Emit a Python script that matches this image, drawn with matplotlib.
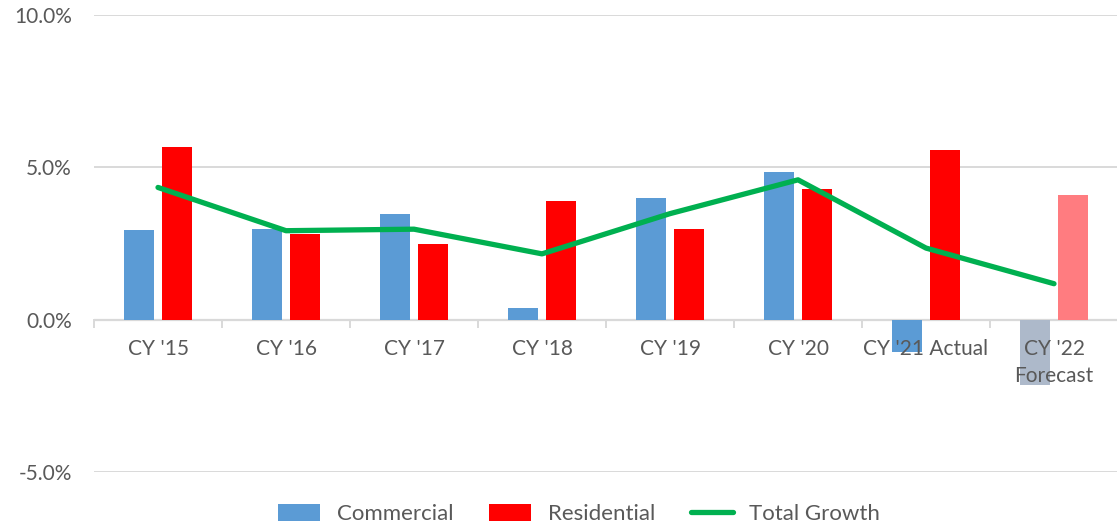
import matplotlib
matplotlib.use("Agg")
import matplotlib.pyplot as plt
import numpy as np

categories = ["CY '15", "CY '16", "CY '17", "CY '18", "CY '19", "CY '20", "CY '21 Actual", "CY '22\nForecast"]
commercial = [2.95, 2.98, 3.48, 0.39, 4.00, 4.85, -1.05, -2.15]
residential = [5.67, 2.82, 2.49, 3.90, 2.98, 4.30, 5.57, 4.10]
total_growth = [4.34, 2.92, 2.97, 2.16, 3.48, 4.59, 2.35, 1.18]
yticks = [-5.0, 0.0, 5.0, 10.0]

plt.rcParams['font.family'] = ['Lato', 'DejaVu Sans']
txt = '#595959'
grid = '#D9D9D9'
fs = 15

fig = plt.figure(figsize=(11.17, 5.25), dpi=100)
ax = fig.add_axes([94/1117, 53/525, 1024/1117, 457/525])

x = np.arange(len(categories))
com_colors = ['#5B9BD5'] * 7 + ['#ADB9CA']
res_colors = ['#FF0000'] * 7 + ['#FF7C80']
bw = 0.235
off = 0.145
ax.bar(x - off, commercial, bw, color=com_colors, edgecolor='none', zorder=2, label='Commercial')
ax.bar(x + off, residential, bw, color=res_colors, edgecolor='none', zorder=2, label='Residential')
ax.plot(x, total_growth, color='#00B050', lw=3.8, solid_capstyle='round', solid_joinstyle='round', zorder=3, label='Total Growth')

ax.set_xlim(-0.5, 7.5)
ax.set_ylim(-5, 10)
ax.set_yticks(yticks)
ax.set_yticklabels([f"{v:.1f}%" for v in yticks], color=txt, fontsize=fs)
for v in yticks:
    if v != 0:
        ax.axhline(v, color=grid, lw=1.4, zorder=0)
ax.axhline(0, color=grid, lw=1.6, zorder=1)
for s in ax.spines.values():
    s.set_visible(False)
ax.tick_params(axis='y', length=0, pad=16)

ax.set_xticks([])
for xi, lab in zip(x, categories):
    ax.annotate(lab, xy=(xi, 0), xytext=(0, -14), textcoords='offset points',
                ha='center', va='top', color=txt, fontsize=fs, linespacing=1.4)
for b in np.arange(-0.5, 8.0, 1.0):
    ax.plot([b, b], [0, -0.25], color=grid, lw=1.4, zorder=1, clip_on=False)

h, l = ax.get_legend_handles_labels()
order = [1, 2, 0]
leg = fig.legend([h[i] for i in order], [l[i] for i in order], loc='center',
                 bbox_to_anchor=(0.5185, 11/525), ncol=3, frameon=False,
                 fontsize=16, handlelength=1.9, handleheight=0.85, columnspacing=1.6, handletextpad=0.75)
for t in leg.get_texts():
    t.set_color(txt)

fig.savefig('out.png', dpi=100)
